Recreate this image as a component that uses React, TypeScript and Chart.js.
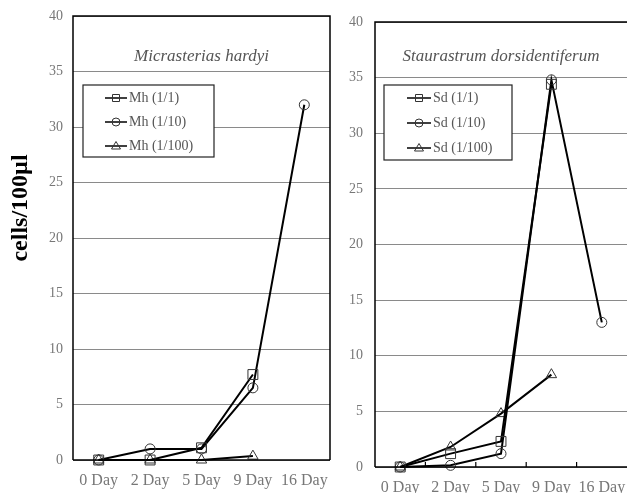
import { useEffect, useRef } from "react";
import { Chart, registerables } from "chart.js";

Chart.register(...registerables);

// Sampling days shared by both panels
const days = ["0 Day", "2 Day", "5 Day", "9 Day", "16 Day"];

// Micrasterias hardyi (cells/100µl)
const mhLabels = ["Mh (1/1)", "Mh (1/10)", "Mh (1/100)"];
const mh1 = [0, 0, 1.1, 7.7, null];
const mh10 = [0, 1.0, 1.0, 6.5, 32];
const mh100 = [0, 0, 0, 0.35, null];

// Staurastrum dorsidentiferum (cells/100µl)
const sdLabels = ["Sd (1/1)", "Sd (1/10)", "Sd (1/100)"];
const sd1 = [0, 1.2, 2.3, 34.4, null];
const sd10 = [0, 0.15, 1.2, 34.8, 13];
const sd100 = [0, 1.8, 4.8, 8.3, null];

const yMin = 0;
const yMax = 40;
const yStep = 5;

const FONT = "'Liberation Serif', 'Times New Roman', serif";
const markerStyles = ["rect", "circle", "triangle"] as const;
const markerRadius = [7, 5, 6];

type LegendBox = {
  x0: number;
  y0: number;
  x1: number;
  y1: number;
  rows: number[];
  lineX0: number;
  lineX1: number;
  textX: number;
};

type DecorOpts = {
  title: string;
  legend: LegendBox;
  rightBorder: boolean;
  xTicks: boolean;
  yTitle?: { text: string; x: number; y: number };
};

function drawMarker(ctx: CanvasRenderingContext2D, style: string, x: number, y: number) {
  ctx.beginPath();
  if (style === "rect") {
    ctx.rect(x - 3.5, y - 3.5, 7, 7);
  } else if (style === "circle") {
    ctx.arc(x, y, 4, 0, Math.PI * 2);
  } else {
    ctx.moveTo(x, y - 4.5);
    ctx.lineTo(x + 4.5, y + 3);
    ctx.lineTo(x - 4.5, y + 3);
    ctx.closePath();
  }
  ctx.stroke();
}

const panelDecor = {
  id: "panelDecor",
  afterDatasetsDraw(chart: any, _args: any, opts: DecorOpts) {
    const { ctx, chartArea } = chart;
    const { left, right, top, bottom } = chartArea;
    ctx.save();

    // frame
    ctx.strokeStyle = "#000";
    ctx.lineWidth = 1.5;
    ctx.beginPath();
    ctx.moveTo(left, bottom);
    ctx.lineTo(left, top);
    ctx.lineTo(right, top);
    if (opts.rightBorder) ctx.lineTo(right, bottom);
    ctx.moveTo(left, bottom);
    ctx.lineTo(right, bottom);
    ctx.stroke();

    // small category separators on the x axis
    if (opts.xTicks) {
      const xs = chart.scales.x;
      ctx.lineWidth = 1.2;
      ctx.beginPath();
      for (let i = 0; i < days.length - 1; i++) {
        const px = (xs.getPixelForValue(i) + xs.getPixelForValue(i + 1)) / 2;
        ctx.moveTo(px, bottom);
        ctx.lineTo(px, bottom - 5);
      }
      ctx.stroke();
    }

    // species title
    ctx.fillStyle = "#555";
    ctx.font = `italic 17px ${FONT}`;
    ctx.textAlign = "center";
    ctx.textBaseline = "middle";
    ctx.fillText(opts.title, (left + right) / 2, 57);

    // legend
    const lg = opts.legend;
    ctx.fillStyle = "#fff";
    ctx.fillRect(lg.x0, lg.y0, lg.x1 - lg.x0, lg.y1 - lg.y0);
    ctx.strokeStyle = "#222";
    ctx.lineWidth = 1.2;
    ctx.strokeRect(lg.x0, lg.y0, lg.x1 - lg.x0, lg.y1 - lg.y0);
    chart.data.datasets.forEach((ds: any, i: number) => {
      const y = lg.rows[i];
      ctx.strokeStyle = "#000";
      ctx.lineWidth = 1.5;
      ctx.beginPath();
      ctx.moveTo(lg.lineX0, y);
      ctx.lineTo(lg.lineX1, y);
      ctx.stroke();
      ctx.lineWidth = 1;
      ctx.strokeStyle = "#333";
      drawMarker(ctx, ds.pointStyle, (lg.lineX0 + lg.lineX1) / 2, y);
      ctx.fillStyle = "#555";
      ctx.font = `14px ${FONT}`;
      ctx.textAlign = "left";
      ctx.textBaseline = "middle";
      ctx.fillText(ds.label, lg.textX, y);
    });

    // shared y-axis title
    if (opts.yTitle) {
      ctx.translate(opts.yTitle.x, opts.yTitle.y);
      ctx.rotate(-Math.PI / 2);
      ctx.fillStyle = "#000";
      ctx.font = `bold 24px ${FONT}`;
      ctx.textAlign = "center";
      ctx.textBaseline = "middle";
      ctx.fillText(opts.yTitle.text, 0, 0);
    }
    ctx.restore();
  },
};

function makeDatasets(labels: string[], series: (number | null)[][]) {
  return series.map((data, i) => ({
    label: labels[i],
    data,
    borderColor: "#000",
    borderWidth: 2,
    pointStyle: markerStyles[i],
    pointRadius: markerRadius[i],
    pointBorderColor: "#333",
    pointBorderWidth: 1,
    pointBackgroundColor: "rgba(0,0,0,0)",
    tension: 0,
    spanGaps: false,
    clip: 10,
  }));
}

type PanelProps = {
  width: number;
  height: number;
  labels: string[];
  series: (number | null)[][];
  padding: { left: number; right: number; top: number; bottom: number };
  yWidth: number;
  yPad: number;
  xHeight: number;
  xPad: number;
  decor: DecorOpts;
};

function Panel(p: PanelProps) {
  const ref = useRef<HTMLCanvasElement | null>(null);
  useEffect(() => {
    if (!ref.current) return;
    const chart = new Chart(ref.current, {
      type: "line",
      data: { labels: days, datasets: makeDatasets(p.labels, p.series) as any },
      options: {
        responsive: false,
        animation: false,
        devicePixelRatio: 1,
        layout: { padding: p.padding, autoPadding: false },
        plugins: {
          legend: { display: false },
          tooltip: { enabled: false },
          panelDecor: p.decor,
        } as any,
        scales: {
          x: {
            type: "category",
            offset: true,
            grid: { display: false, drawTicks: false },
            border: { display: false },
            ticks: {
              font: { family: FONT, size: 16 },
              color: "#777",
              padding: p.xPad,
              maxRotation: 0,
              autoSkip: false,
            },
            afterFit: (s: any) => {
              s.height = p.xHeight;
              s.paddingLeft = 0;
              s.paddingRight = 0;
            },
          },
          y: {
            min: yMin,
            max: yMax,
            grid: { color: "#8a8a8a", lineWidth: 1, drawTicks: false },
            border: { display: false },
            ticks: {
              stepSize: yStep,
              font: { family: FONT, size: 14 },
              color: "#777",
              padding: p.yPad,
            },
            afterFit: (s: any) => {
              s.width = p.yWidth;
              s.paddingTop = 0;
              s.paddingBottom = 0;
            },
          },
        },
      },
      plugins: [panelDecor as any],
    });
    return () => chart.destroy();
  }, []);
  return <canvas ref={ref} width={p.width} height={p.height} style={{ display: "block" }} />;
}

export default function App() {
  return (
    <div style={{ position: "absolute", left: 0, top: 0, width: 627, height: 493, background: "#fff", overflow: "hidden" }}>
      <div style={{ position: "absolute", left: 0, top: 0 }}>
        <Panel
          width={335}
          height={493}
          labels={mhLabels}
          series={[mh1, mh10, mh100]}
          padding={{ left: 0, right: 5, top: 16, bottom: 0 }}
          yWidth={73}
          yPad={10}
          xHeight={33}
          xPad={11}
          decor={{
            title: "Micrasterias hardyi",
            legend: { x0: 83, y0: 85, x1: 214, y1: 157, rows: [98, 122, 146], lineX0: 105, lineX1: 127, textX: 129 },
            rightBorder: true,
            xTicks: false,
            yTitle: { text: "cells/100µl", x: 21, y: 208 },
          }}
        />
      </div>
      <div style={{ position: "absolute", left: 335, top: 0 }}>
        <Panel
          width={292}
          height={493}
          labels={sdLabels}
          series={[sd1, sd10, sd100]}
          padding={{ left: 0, right: 0, top: 22, bottom: 0 }}
          yWidth={40}
          yPad={12}
          xHeight={26}
          xPad={11}
          decor={{
            title: "Staurastrum dorsidentiferum",
            legend: { x0: 49, y0: 85, x1: 177, y1: 160, rows: [98, 123, 148], lineX0: 72, lineX1: 96, textX: 98 },
            rightBorder: false,
            xTicks: true,
          }}
        />
      </div>
    </div>
  );
}
